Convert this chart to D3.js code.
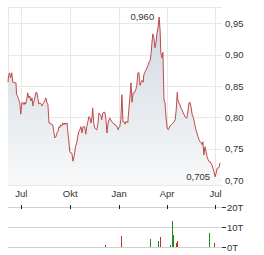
<!DOCTYPE html>
<html>
<head>
<meta charset="utf-8">
<script src="https://cdn.jsdelivr.net/npm/d3@7"></script>
<style>
  body { margin: 0; background: #fff; }
  svg text { font-family: "Liberation Sans", Arial, sans-serif; font-size: 9.5px; fill: #333; }
</style>
</head>
<body>
<div id="chart"></div>
<script>
// daily closing prices
const dates = [
  "2024-06-07","2024-06-08","2024-06-10","2024-06-12","2024-06-14","2024-06-16","2024-06-18","2024-06-20","2024-06-22","2024-06-23",
  "2024-06-25","2024-06-27","2024-06-29","2024-07-01","2024-07-03","2024-07-05","2024-07-07","2024-07-09","2024-07-10","2024-07-12",
  "2024-07-14","2024-07-16","2024-07-18","2024-07-20","2024-07-22","2024-07-24","2024-07-25","2024-07-27","2024-07-29","2024-07-31",
  "2024-08-02","2024-08-04","2024-08-06","2024-08-08","2024-08-10","2024-08-11","2024-08-13","2024-08-15","2024-08-17","2024-08-19",
  "2024-08-21","2024-08-23","2024-08-25","2024-08-26","2024-08-28","2024-08-30","2024-09-01","2024-09-03","2024-09-05","2024-09-07",
  "2024-09-09","2024-09-11","2024-09-12","2024-09-14","2024-09-16","2024-09-18","2024-09-20","2024-09-22","2024-09-24","2024-09-26",
  "2024-09-27","2024-09-29","2024-10-01","2024-10-03","2024-10-05","2024-10-07","2024-10-09","2024-10-11","2024-10-12","2024-10-14",
  "2024-10-16","2024-10-18","2024-10-20","2024-10-22","2024-10-24","2024-10-26","2024-10-28","2024-10-29","2024-10-31","2024-11-02",
  "2024-11-04","2024-11-06","2024-11-08","2024-11-10","2024-11-12","2024-11-13","2024-11-15","2024-11-17","2024-11-19","2024-11-21",
  "2024-11-23","2024-11-25","2024-11-27","2024-11-29","2024-11-30","2024-12-02","2024-12-04","2024-12-06","2024-12-08","2024-12-10",
  "2024-12-12","2024-12-14","2024-12-15","2024-12-17","2024-12-19","2024-12-21","2024-12-23","2024-12-25","2024-12-27","2024-12-29",
  "2024-12-31","2025-01-01","2025-01-03","2025-01-05","2025-01-07","2025-01-09","2025-01-11","2025-01-13","2025-01-15","2025-01-16",
  "2025-01-18","2025-01-20","2025-01-22","2025-01-24","2025-01-26","2025-01-28","2025-01-30","2025-01-31","2025-02-02","2025-02-04",
  "2025-02-06","2025-02-08","2025-02-10","2025-02-12","2025-02-14","2025-02-16","2025-02-17","2025-02-19","2025-02-21","2025-02-23",
  "2025-02-25","2025-02-27","2025-03-01","2025-03-03","2025-03-04","2025-03-06","2025-03-08","2025-03-10","2025-03-12","2025-03-14",
  "2025-03-16","2025-03-18","2025-03-20","2025-03-21","2025-03-23","2025-03-25","2025-03-27","2025-03-29","2025-03-31","2025-04-02",
  "2025-04-04","2025-04-05","2025-04-07","2025-04-09","2025-04-11","2025-04-13","2025-04-15","2025-04-17","2025-04-19","2025-04-21",
  "2025-04-22","2025-04-24","2025-04-26","2025-04-28","2025-04-30","2025-05-02","2025-05-04","2025-05-06","2025-05-07","2025-05-09",
  "2025-05-11","2025-05-13","2025-05-15","2025-05-17","2025-05-19","2025-05-21","2025-05-23","2025-05-24","2025-05-26","2025-05-28",
  "2025-05-30","2025-06-01","2025-06-03","2025-06-05","2025-06-07","2025-06-08","2025-06-10","2025-06-12","2025-06-14","2025-06-16",
  "2025-06-18","2025-06-20","2025-06-22","2025-06-23","2025-06-25","2025-06-27","2025-06-29","2025-07-01","2025-07-03","2025-07-05",
  "2025-07-07","2025-07-09","2025-07-10"
];
const prices = [
  0.856,0.866,0.871,0.863,0.871,0.856,0.856,0.855,0.855,0.836,
  0.834,0.828,0.824,0.805,0.823,0.824,0.820,0.824,0.821,0.828,
  0.839,0.831,0.834,0.826,0.831,0.818,0.824,0.829,0.839,0.840,
  0.831,0.821,0.823,0.821,0.818,0.821,0.823,0.826,0.831,0.824,
  0.820,0.791,0.791,0.789,0.789,0.788,0.777,0.767,0.769,0.775,
  0.778,0.785,0.783,0.788,0.786,0.791,0.788,0.791,0.789,0.791,
  0.780,0.764,0.745,0.743,0.743,0.730,0.737,0.748,0.754,0.759,
  0.769,0.777,0.780,0.785,0.775,0.785,0.785,0.785,0.773,0.785,
  0.793,0.801,0.799,0.791,0.802,0.815,0.791,0.783,0.781,0.780,
  0.791,0.807,0.804,0.802,0.796,0.807,0.808,0.808,0.796,0.775,
  0.791,0.796,0.799,0.796,0.793,0.791,0.789,0.789,0.786,0.785,
  0.780,0.783,0.785,0.796,0.836,0.793,0.793,0.789,0.794,0.793,
  0.791,0.812,0.832,0.855,0.824,0.839,0.839,0.840,0.844,0.851,
  0.871,0.871,0.851,0.856,0.859,0.856,0.867,0.872,0.875,0.879,
  0.883,0.888,0.891,0.903,0.915,0.933,0.927,0.911,0.919,0.935,
  0.944,0.960,0.935,0.903,0.895,0.904,0.828,0.823,0.799,0.783,
  0.780,0.781,0.786,0.788,0.789,0.791,0.793,0.796,0.812,0.840,
  0.828,0.823,0.820,0.815,0.812,0.807,0.804,0.800,0.799,0.799,
  0.810,0.823,0.824,0.816,0.804,0.800,0.793,0.788,0.780,0.775,
  0.769,0.764,0.761,0.759,0.756,0.761,0.740,0.753,0.745,0.737,
  0.732,0.729,0.729,0.727,0.724,0.719,0.713,0.705,0.711,0.719,
  0.719,0.721,0.727
];

// trading volume in thousands (T)
const volDates = ["2024-12-06","2025-01-05","2025-03-01","2025-03-16","2025-03-20","2025-04-07","2025-04-11","2025-04-13","2025-04-19","2025-04-21","2025-06-20","2025-06-29"];
const volValues = [1, 5.5, 4, 3, 5, 1, 13, 6, 2, 3, 7, 2];
const volUp = [false, false, true, true, false, true, true, true, false, false, true, false];

const priceTicks = [0.70, 0.75, 0.80, 0.85, 0.90, 0.95];
const volTicks = [0, 10, 20];
const tickMonths = ["2024-07-01", "2024-10-01", "2025-01-01", "2025-04-01", "2025-07-01"];
const monthNames = ["Jan","Feb","Mär","Apr","Mai","Jun","Jul","Aug","Sep","Okt","Nov","Dez"];

const parse = d3.utcParse("%Y-%m-%d");
const data = dates.map((d, i) => ({ date: parse(d), value: prices[i] }));
const vol = volDates.map((d, i) => ({ date: parse(d), value: volValues[i], up: volUp[i] }));
const ticks = tickMonths.map(parse);

const de = d3.formatLocale({ decimal: ",", thousands: ".", grouping: [3], currency: ["", " €"] });

const W = 264, H = 255;
const plotL = 8, plotR = 222, plotT = 7, plotB = 185;
const volT = 207, volB = 247;

const x = d3.scaleUtc()
    .domain([parse("2024-06-07"), parse("2025-07-14")])
    .range([plotL, plotR]);
const y = d3.scaleLinear().domain([0.692, 0.976]).range([plotB, plotT]);
const yv = d3.scaleLinear().domain([0, 20]).range([volB, volT]);

const svg = d3.select('#chart').append('svg')
    .attr('width', W)
    .attr('height', H);

const defs = svg.append('defs');
const grad = defs.append('linearGradient')
    .attr('id', 'fillGrad')
    .attr('gradientUnits', 'userSpaceOnUse')
    .attr('x1', 0).attr('x2', 0)
    .attr('y1', plotT).attr('y2', plotB);
grad.append('stop').attr('offset', '0%').attr('stop-color', '#cdd6de');
grad.append('stop').attr('offset', '100%').attr('stop-color', '#f8f9fa');

// grid
const grid = svg.append('g').attr('stroke', '#e8e8e8').attr('stroke-width', 1).attr('shape-rendering', 'crispEdges');
grid.selectAll('.hg').data(priceTicks).join('line')
    .attr('x1', plotL).attr('x2', plotR)
    .attr('y1', d => Math.round(y(d)) + 0.5).attr('y2', d => Math.round(y(d)) + 0.5);
grid.selectAll('.vg').data(ticks).join('line')
    .attr('x1', d => Math.round(x(d)) + 0.5).attr('x2', d => Math.round(x(d)) + 0.5)
    .attr('y1', plotT).attr('y2', plotB);
// frame
grid.append('path')
    .attr('fill', 'none')
    .attr('d', `M${plotR},${plotT + 0.5}H${plotL + 0.5}V${plotB + 0.5}H${plotR}`);

// price area + line
svg.append('path')
    .datum(data)
    .attr('fill', 'url(#fillGrad)')
    .attr('d', d3.area().x(d => x(d.date)).y0(plotB).y1(d => y(d.value)));

svg.append('path')
    .datum(data)
    .attr('fill', 'none')
    .attr('stroke', '#bf4b4b')
    .attr('stroke-width', 1)
    .attr('stroke-linejoin', 'round')
    .attr('d', d3.line().x(d => x(d.date)).y(d => y(d.value)));

// y axis (prices)
const yAxis = svg.append('g')
    .attr('transform', `translate(${plotR},0)`)
    .call(d3.axisRight(y).tickValues(priceTicks).tickSize(0).tickPadding(3).tickFormat(de.format('.2f')));
yAxis.select('.domain').remove();
yAxis.selectAll('text').attr('fill', '#333');

// x axis labels
const xAxis = svg.append('g')
    .attr('transform', `translate(0,${plotB})`)
    .call(d3.axisBottom(x).tickValues(ticks).tickSize(0).tickPadding(5)
        .tickFormat(d => monthNames[d.getUTCMonth()]));
xAxis.select('.domain').remove();
xAxis.selectAll('text').attr('fill', '#333');

// max / min labels
const fmt3 = de.format('.3f');
const hi = data[d3.maxIndex(data, d => d.value)];
const lo = data[d3.minIndex(data, d => d.value)];
[hi, lo].forEach(p => {
    svg.append('text')
        .attr('x', x(p.date) - 5)
        .attr('y', y(p.value))
        .attr('dy', '0.35em')
        .attr('text-anchor', 'end')
        .attr('fill', '#222')
        .text(fmt3(p.value));
});

// volume panel
const vg = svg.append('g').attr('stroke', '#d0d0d0').attr('shape-rendering', 'crispEdges');
vg.selectAll('line').data(volTicks).join('line')
    .attr('x1', plotL).attr('x2', plotR)
    .attr('y1', d => Math.round(yv(d)) + 0.5).attr('y2', d => Math.round(yv(d)) + 0.5);

svg.append('g').attr('stroke', '#222').attr('shape-rendering', 'crispEdges')
    .selectAll('line').data(ticks).join('line')
    .attr('x1', d => Math.round(x(d)) + 0.5).attr('x2', d => Math.round(x(d)) + 0.5)
    .attr('y1', yv(20) - 2).attr('y2', yv(20) + 2);

svg.append('g').selectAll('rect').data(vol).join('rect')
    .attr('x', d => Math.round(x(d.date)))
    .attr('width', 1)
    .attr('y', d => yv(d.value))
    .attr('height', d => yv(0) - yv(d.value))
    .attr('fill', d => d.up ? '#1e8c1e' : '#c0302b');

const vAxis = svg.append('g')
    .attr('transform', `translate(${plotR},0)`)
    .call(d3.axisRight(yv).tickValues(volTicks).tickSize(4).tickPadding(1).tickFormat(d => d + 'T'));
vAxis.select('.domain').remove();
vAxis.selectAll('line').attr('stroke', '#333');
vAxis.selectAll('text').attr('fill', '#333');
</script>
</body>
</html>
